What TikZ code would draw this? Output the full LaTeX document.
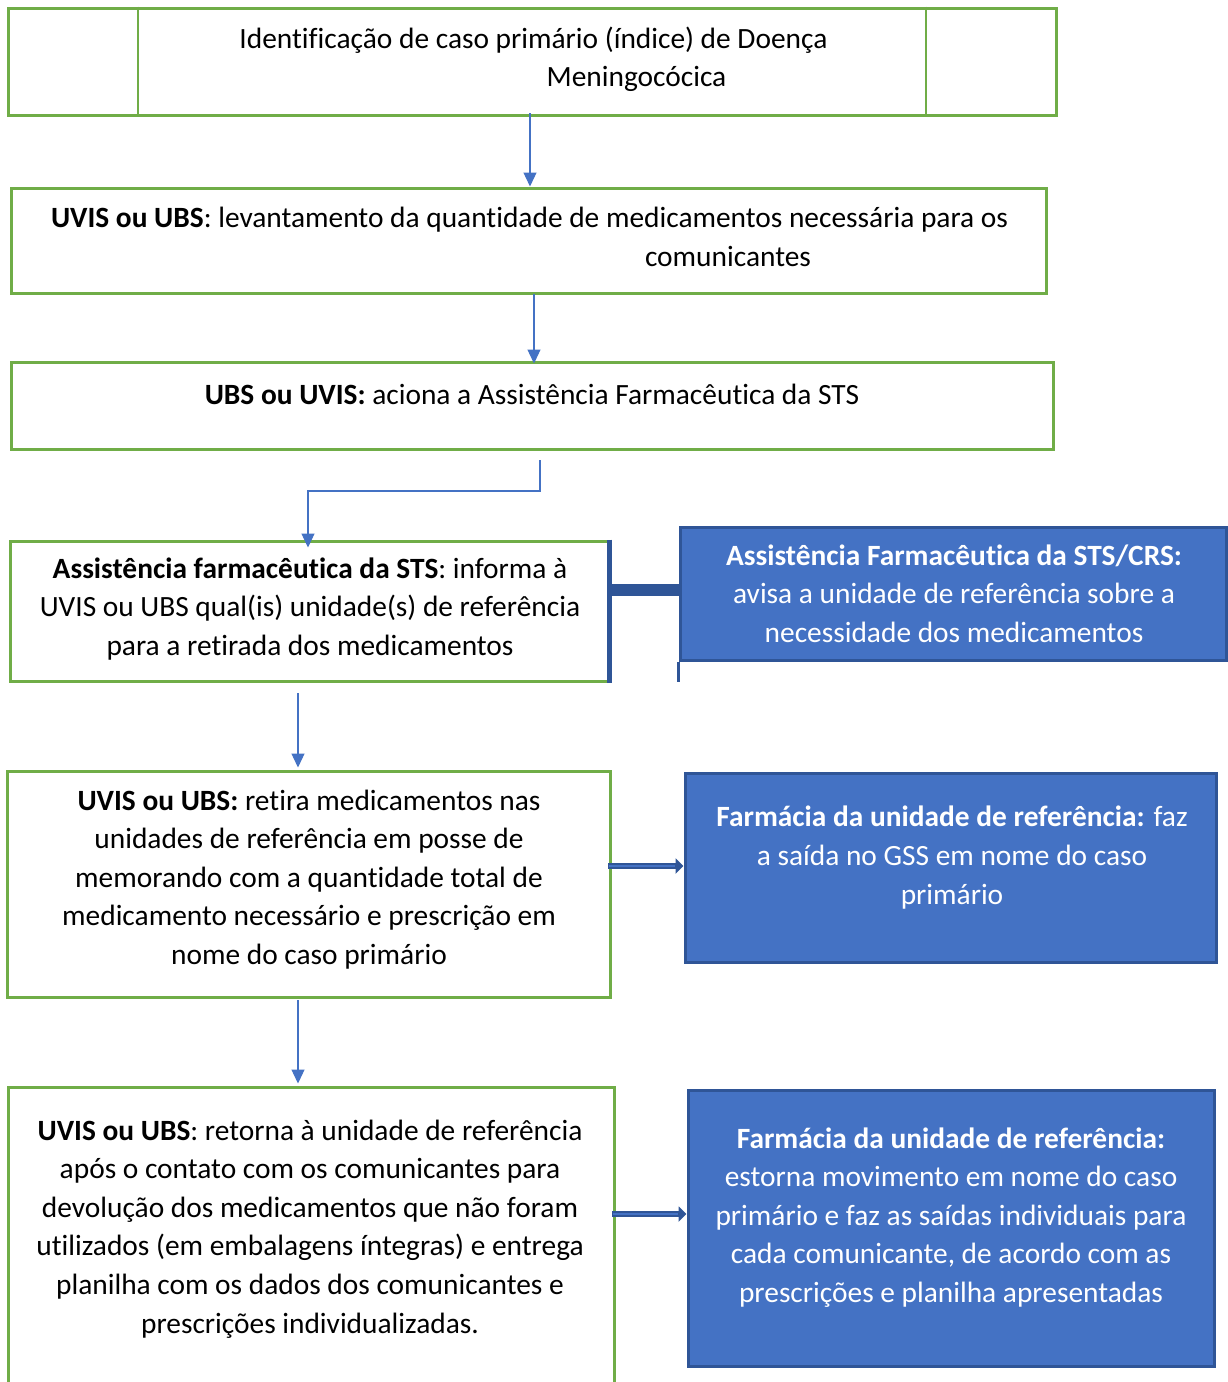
\documentclass[tikz,border=0pt]{standalone}
\usepackage{fontspec}
\setmainfont{Carlito}[Ligatures=NoCommon]
\usetikzlibrary{arrows.meta,calc}
\definecolor{gr}{HTML}{70AD47}
\definecolor{bl}{HTML}{4472C4}
\definecolor{dbl}{HTML}{2F5597}
\begin{document}
\begin{tikzpicture}[x=1pt,y=-1pt,
  gbox/.style={draw=gr, line width=3pt, inner sep=0pt},
  bbox/.style={draw=dbl, fill=bl, line width=3pt, inner sep=0pt},
  conn/.style={draw=bl, line width=1.3pt, -{Triangle[length=14pt,width=13pt]}},
  blockarr/.style={draw=dbl, line width=6pt, -{Triangle[length=8pt,width=15pt]}},
  blockin/.style={draw=bl, line width=2.2pt, shorten >=9pt, shorten <=1pt},
  txt/.style={font=\fontsize{29.4}{38.6}\selectfont, align=center, inner sep=0pt, anchor=base},
  wtxt/.style={txt, text=white}]
\useasboundingbox (0,0) rectangle (1228,1382);
\clip (0,0) rectangle (1228,1382);
\fill[white] (0,0) rectangle (1228,1382);

% boxes
\node[gbox, minimum width=1048pt, minimum height=107pt] (b1) at (532,61.5) {};
\draw[gr, line width=2pt] ($(b1.north west)+(131,0)$) -- ($(b1.south west)+(131,0)$);
\draw[gr, line width=2pt] ($(b1.north east)+(-132,0)$) -- ($(b1.south east)+(-132,0)$);
\node[gbox, minimum width=1035pt, minimum height=105pt] (b2) at (528.5,240.5) {};
\node[gbox, minimum width=1042pt, minimum height=87pt] (b3) at (532,405.5) {};
\node[gbox, minimum width=598pt, minimum height=140pt] (b4) at (309,611) {};
\draw[dbl, line width=5pt] (b4.north east) -- (b4.south east);
\node[bbox, minimum width=546pt, minimum height=133pt] (b5) at (953,593.5) {};
\draw[dbl, line width=3pt] (b5.south west) -- ++(0,20);
\draw[dbl, line width=12pt] ($(b5.west -| b4.east)+(0,-4)$) -- ($(b5.west)+(0,-4)$);
\node[bbox, minimum width=531pt, minimum height=189pt] (b6) at (950.5,867.5) {};
\node[gbox, minimum width=603pt, minimum height=226pt] (b7) at (308.5,884) {};
\node[gbox, minimum width=606pt, minimum height=313pt] (b8) at (311,1243.5) {};
\node[bbox, minimum width=526pt, minimum height=276pt] (b9) at (951,1228) {};

% connectors
\coordinate (a1) at (530,113);
\draw[conn] (a1) -- (a1 |- b2.north);
\coordinate (a2) at (534,294);
\draw[conn] (a2) -- ($(a2 |- b3.north)+(0,3)$);
\coordinate (a3) at (540,460);
\draw[conn] (a3) |- (308,491) -- ($(b4.north -| 308,0)+(0,8)$);
\coordinate (a4) at (298,693);
\draw[conn] (a4) -- ($(a4 |- b7.north)+(0,-2)$);
\coordinate (a5) at (298,1000);
\draw[conn] (a5) -- ($(a5 |- b8.north)+(0,-2)$);

\coordinate (c1) at (608,866);
\draw[blockarr] (c1) -- (c1 -| b6.west);
\draw[blockin] (c1) -- (c1 -| b6.west);
\coordinate (c2) at (612,1214);
\draw[blockarr] (c2) -- (c2 -| b9.west);
\draw[blockin] (c2) -- (c2 -| b9.west);

% texts (anchor base = baseline of last line)
\node[txt] (t1) at (533.5,86.6) {Identificação de caso primário (índice) de Doença\\\hspace*{206pt}Meningocócica};
\node[txt] (t2) at (529.5,266) {\textbf{UVIS ou UBS}: levantamento da quantidade de medicamentos necessária para os\\\hspace*{397pt}comunicantes};
\node[txt] (t3) at (532,404) {\textbf{UBS ou UVIS:} aciona a Assistência Farmacêutica da STS};
\node[txt] (t4) at (310,655.2) {\textbf{Assistência farmacêutica da STS}: informa à\\UVIS ou UBS qual(is) unidade(s) de referência\\para a retirada dos medicamentos};
\node[wtxt] (t5) at (954,642.2) {\textbf{Assistência Farmacêutica da STS/CRS:}\\avisa a unidade de referência sobre a\\necessidade dos medicamentos};
\node[wtxt] (t6) at (952,904) {\textbf{Farmácia da unidade de referência:} faz\\a saída no GSS em nome do caso\\primário};
\node[txt] (t7) at (309,964.5) {\textbf{UVIS ou UBS:} retira medicamentos nas\\unidades de referência em posse de\\memorando com a quantidade total de\\medicamento necessário e prescrição em\\nome do caso primário};
\node[txt] (t8) at (310,1333) {\textbf{UVIS ou UBS}: retorna à unidade de referência\\após o contato com os comunicantes para\\devolução dos medicamentos que não foram\\utilizados (em embalagens íntegras) e entrega\\planilha com os dados dos comunicantes e\\prescrições individualizadas.};
\node[wtxt] (t9) at (951,1302.5) {\textbf{Farmácia da unidade de referência:}\\estorna movimento em nome do caso\\primário e faz as saídas individuais para\\cada comunicante, de acordo com as\\prescrições e planilha apresentadas};
\end{tikzpicture}
\end{document}
